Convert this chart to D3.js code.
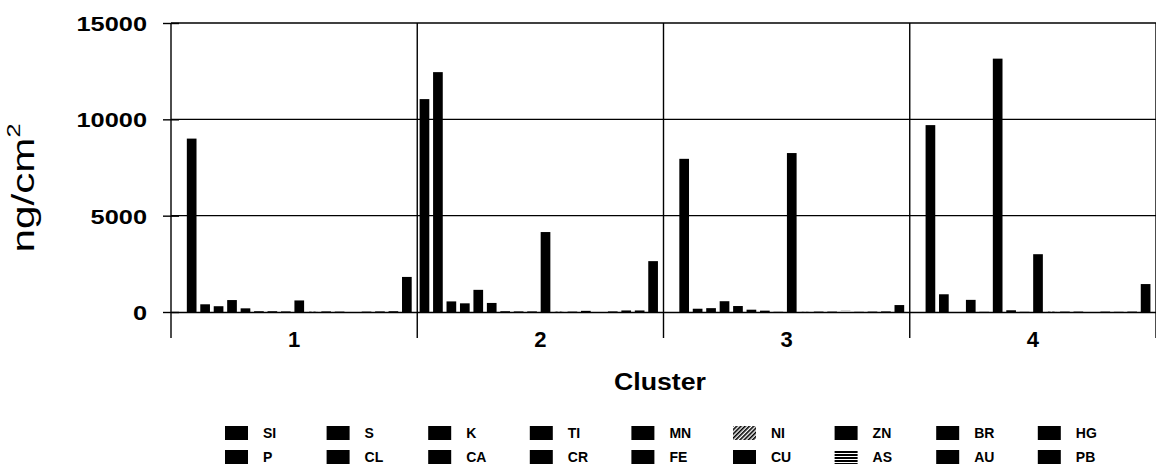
<!DOCTYPE html>
<html>
<head>
<meta charset="utf-8">
<script src="https://cdn.jsdelivr.net/npm/d3@7"></script>
<style>
  html, body { margin: 0; padding: 0; background: #fff; }
  svg { display: block; }
  text { font-family: "Liberation Sans", Arial, sans-serif; fill: #000; }
</style>
</head>
<body>
<svg id="chart" width="1156" height="471"></svg>
<script>
// ---- data ----
const categories = ["1", "2", "3", "4"];
const elements = ["SI","P","S","CL","K","CA","TI","CR","MN","FE","NI","CU","ZN","AS","BR","AU","HG","PB"];
const cluster1 = [0, 9000, 400, 300, 620, 190, 40, 40, 30, 600, 20, 30, 20, 10, 20, 30, 40, 1820];
const cluster2 = [11050, 12450, 550, 450, 1150, 470, 40, 30, 30, 4150, 20, 20, 60, 20, 30, 80, 80, 2640];
const cluster3 = [0, 7950, 170, 200, 560, 310, 120, 70, 10, 8250, 10, 20, 20, 60, 10, 20, 30, 360];
const cluster4 = [0, 9700, 920, 0, 630, 10, 13150, 90, 10, 3000, 20, 20, 20, 20, 20, 10, 20, 1450];
const clusterValues = [cluster1, cluster2, cluster3, cluster4];
const yTicks = [0, 5000, 10000, 15000];
const yTitle = "ng/cm";
const yTitleSup = "2";
const xTitle = "Cluster";

// ---- layout ----
const svg = d3.select("#chart");
const plotLeft = 171, plotRight = 1156, plotTop = 23, plotBottom = 312;

const x0 = d3.scaleBand().domain(categories).range([plotLeft, plotRight]).padding(0);
const x1 = d3.scaleBand().domain(elements).range([0, x0.bandwidth()])
  .paddingInner(0.28).paddingOuter(0.295).align(0.3);
const y = d3.scaleLinear().domain([0, 15000]).range([plotBottom, plotTop]);

// patterns
const defs = svg.append("defs");
const pNi = defs.append("pattern").attr("id", "pat-NI").attr("patternUnits", "userSpaceOnUse")
  .attr("width", 3).attr("height", 3).attr("patternTransform", "rotate(45)");
pNi.append("rect").attr("width", 3).attr("height", 3).attr("fill", "#fff");
pNi.append("rect").attr("width", 1.6).attr("height", 3).attr("fill", "#000");
const pAs = defs.append("pattern").attr("id", "pat-AS").attr("patternUnits", "userSpaceOnUse")
  .attr("width", 4).attr("height", 3);
pAs.append("rect").attr("width", 4).attr("height", 3).attr("fill", "#fff");
pAs.append("rect").attr("width", 4).attr("height", 2).attr("fill", "#000");

const fillFor = e => e === "NI" ? "url(#pat-NI)" : (e === "AS" ? "url(#pat-AS)" : "#000");

// horizontal gridlines
svg.append("g").selectAll("line").data(yTicks.filter(d => d > 0)).join("line")
  .attr("x1", plotLeft).attr("x2", plotRight)
  .attr("y1", d => y(d)).attr("y2", d => y(d))
  .attr("stroke", "#000").attr("stroke-width", 1.4);

// vertical category boundaries (gridlines + ticks below axis)
const bounds = categories.map(c => x0(c) + x0.bandwidth());
svg.append("g").selectAll("line").data(bounds).join("line")
  .attr("x1", d => d).attr("x2", d => d)
  .attr("y1", plotTop).attr("y2", plotBottom + 26)
  .attr("stroke", "#000").attr("stroke-width", 1.4);

// bars
const groups = svg.append("g").selectAll("g").data(categories).join("g")
  .attr("transform", c => `translate(${x0(c)},0)`);
groups.selectAll("rect")
  .data((c, i) => elements.map((e, j) => ({ e, v: clusterValues[i][j] })))
  .join("rect")
  .attr("x", d => x1(d.e))
  .attr("width", x1.bandwidth())
  .attr("y", d => y(d.v))
  .attr("height", d => y(0) - y(d.v))
  .attr("fill", d => fillFor(d.e));

// left axis
const yAxis = d3.axisLeft(y).tickValues(yTicks).tickSize(0).tickPadding(0);
const ya = svg.append("g").attr("transform", `translate(${plotLeft},0)`).call(yAxis);
ya.select(".domain").remove();
ya.selectAll(".tick text").remove();
ya.selectAll(".tick").append("line")
  .attr("x1", -8).attr("x2", 8).attr("stroke", "#000").attr("stroke-width", 1.4);
ya.selectAll(".tick").append("text")
  .attr("x", -24).attr("dy", "0.36em")
  .attr("text-anchor", "end")
  .attr("font-size", 21).attr("font-weight", "bold")
  .attr("textLength", d => String(d).length * 14.1)
  .attr("lengthAdjust", "spacingAndGlyphs")
  .text(d => d);
svg.append("line").attr("x1", plotLeft).attr("x2", plotLeft).attr("y1", plotTop).attr("y2", plotBottom + 26)
  .attr("stroke", "#000").attr("stroke-width", 1.4);

// x axis line
const xAxis = d3.axisBottom(x0).tickSize(0).tickPadding(0);
const xa = svg.append("g").attr("transform", `translate(0,${plotBottom})`).call(xAxis);
xa.select(".domain").attr("stroke", "#000").attr("stroke-width", 1.6);
xa.selectAll(".tick text")
  .attr("y", 27).attr("dy", "0.36em")
  .attr("font-size", 22).attr("font-weight", "bold")
  .attr("font-family", "Liberation Sans, Arial, sans-serif")
  .attr("fill", "#000");

// axis titles
svg.append("text").attr("x", 660).attr("y", 382).attr("dy", "0.36em")
  .attr("text-anchor", "middle").attr("font-size", 23).attr("font-weight", "bold")
  .attr("textLength", 92).attr("lengthAdjust", "spacingAndGlyphs")
  .text(xTitle);

const yt = svg.append("text")
  .attr("transform", "translate(34,188) rotate(-90) scale(1.32,1)")
  .attr("text-anchor", "middle").attr("font-size", 32);
yt.append("tspan").text(yTitle);
yt.append("tspan").attr("font-size", 19).attr("dy", -14).text(yTitleSup);

// legend (9 columns x 2 rows, column-major)
const legend = svg.append("g");
const lg = legend.selectAll("g").data(elements).join("g")
  .attr("transform", (e, i) => `translate(${225 + Math.floor(i / 2) * 101.6},${433 + (i % 2) * 24})`);
lg.append("rect").attr("x", 0).attr("y", -7).attr("width", 23).attr("height", 14)
  .attr("fill", e => fillFor(e));
lg.append("text").attr("x", 38).attr("dy", "0.36em")
  .attr("font-size", 14).attr("font-weight", "bold").text(e => e);
</script>
</body>
</html>
